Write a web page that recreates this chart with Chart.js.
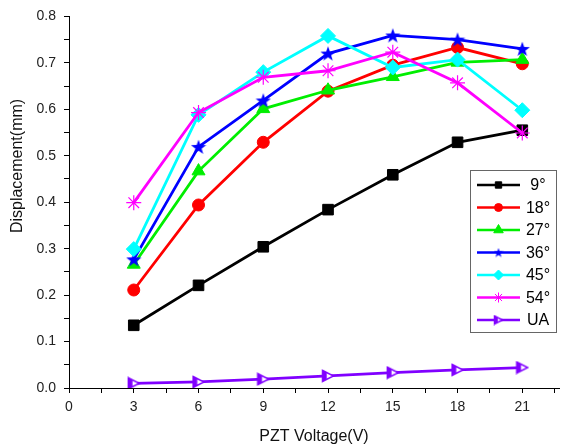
<!DOCTYPE html>
<html>
<head>
<meta charset="utf-8">
<script src="https://cdn.jsdelivr.net/npm/chart.js@4.4.1/dist/chart.umd.min.js"></script>
<style>
  html, body { margin: 0; padding: 0; background: #fff; }
  #contenedor { width: 568px; height: 447px; }
</style>
</head>
<body>
<div id="contenedor"><canvas id="grafico" width="568" height="447"></canvas></div>
<script>
// Datos
var voltajes = [3, 6, 9, 12, 15, 18, 21];
var serie9  = [0.135, 0.221, 0.304, 0.384, 0.459, 0.529, 0.555];
var serie18 = [0.211, 0.394, 0.529, 0.639, 0.695, 0.733, 0.698];
var serie27 = [0.266, 0.467, 0.601, 0.641, 0.670, 0.701, 0.707];
var serie36 = [0.277, 0.519, 0.619, 0.720, 0.759, 0.750, 0.730];
var serie45 = [0.299, 0.588, 0.680, 0.758, 0.690, 0.707, 0.598];
var serie54 = [0.399, 0.593, 0.669, 0.683, 0.723, 0.657, 0.549];
var serieUA = [0.010, 0.013, 0.019, 0.026, 0.033, 0.039, 0.044];
var nombres = ['9°', '18°', '27°', '36°', '45°', '54°', 'UA'];
var etiquetasX = [0, 3, 6, 9, 12, 15, 18, 21];
var etiquetasY = [0, 0.1, 0.2, 0.3, 0.4, 0.5, 0.6, 0.7, 0.8];

var FUENTE = "'Liberation Sans', Arial, sans-serif";

function crearEstrella(color, tam) {
  var c = document.createElement('canvas');
  c.width = tam; c.height = tam;
  var ctx = c.getContext('2d');
  var cx = tam / 2, cy = tam / 2 + tam * 0.04, rExt = tam / 2, rInt = tam * 0.2;
  ctx.beginPath();
  for (var i = 0; i < 10; i++) {
    var r = i % 2 === 0 ? rExt : rInt;
    var a = -Math.PI / 2 + i * Math.PI / 5;
    ctx.lineTo(cx + r * Math.cos(a), cy + r * Math.sin(a));
  }
  ctx.closePath();
  ctx.fillStyle = color;
  ctx.fill();
  return c;
}

function crearTrianguloUA(color, tam) {
  var c = document.createElement('canvas');
  c.width = tam; c.height = tam;
  var ctx = c.getContext('2d');
  var m = 1.5;
  ctx.beginPath();
  ctx.moveTo(m, m);
  ctx.lineTo(tam - m, tam / 2);
  ctx.lineTo(m, tam - m);
  ctx.closePath();
  ctx.fillStyle = '#fff';
  ctx.fill();
  ctx.lineWidth = 1.5;
  ctx.strokeStyle = color;
  ctx.stroke();
  var w = tam * 0.3;
  var k = (tam / 2 - m) / (tam - 2 * m);
  ctx.beginPath();
  ctx.moveTo(m, m);
  ctx.lineTo(m + w, m + w * k);
  ctx.lineTo(m + w, tam - m - w * k);
  ctx.lineTo(m, tam - m);
  ctx.closePath();
  ctx.fillStyle = color;
  ctx.fill();
  return c;
}

var series = [
  { datos: serie9,  color: '#000000', estilo: 'rect',     radio: 7.5, radioLeyenda: 4.5 },
  { datos: serie18, color: '#ff0000', estilo: 'circle',   radio: 6,   radioLeyenda: 4 },
  { datos: serie27, color: '#00ee00', estilo: 'triangle', radio: 7.5, radioLeyenda: 5.5 },
  { datos: serie36, color: '#0000ff', estilo: crearEstrella('#0000ff', 16), estiloLeyenda: crearEstrella('#0000ff', 10), radio: 8 },
  { datos: serie45, color: '#00ffff', estilo: 'rectRot',  radio: 7.5, radioLeyenda: 5 },
  { datos: serie54, color: '#ff00ff', estilo: 'star',     radio: 7.5, radioLeyenda: 5 },
  { datos: serieUA, color: '#8000ff', estilo: crearTrianguloUA('#8000ff', 14), estiloLeyenda: crearTrianguloUA('#8000ff', 11), radio: 7 }
];

var datasets = series.map(function (s, i) {
  return {
    label: nombres[i],
    data: s.datos.map(function (v, j) { return { x: voltajes[j], y: v }; }),
    borderColor: s.color,
    backgroundColor: s.color,
    borderWidth: 2.8,
    pointStyle: s.estilo,
    pointRadius: s.radio,
    pointBackgroundColor: s.color,
    pointBorderColor: s.color,
    pointBorderWidth: s.estilo === 'star' ? 1.2 : 1,
    tension: 0,
    order: series.length - i
  };
});

function esEtiqueta(lista, v) {
  return lista.some(function (e) { return Math.abs(e - v) < 1e-6; });
}

var leyendaPropia = {
  id: 'leyendaPropia',
  afterDraw: function (chart) {
    var ctx = chart.ctx;
    ctx.save();
    // titulo eje Y
    ctx.translate(18, 166);
    ctx.rotate(-Math.PI / 2);
    ctx.font = '16px ' + FUENTE;
    ctx.fillStyle = '#111';
    ctx.textAlign = 'center';
    ctx.textBaseline = 'middle';
    ctx.fillText('Displacement(mm)', 0, 0);
    ctx.restore();

    // caja de leyenda
    ctx.save();
    ctx.fillStyle = '#fff';
    ctx.fillRect(470.5, 170.5, 86, 162);
    ctx.strokeStyle = '#666';
    ctx.lineWidth = 1;
    ctx.strokeRect(470.5, 170.5, 86, 162);
    series.forEach(function (s, i) {
      var y = 185 + i * 22.5;
      ctx.strokeStyle = s.color;
      ctx.lineWidth = 2.5;
      ctx.beginPath();
      ctx.moveTo(477, y);
      ctx.lineTo(520, y);
      ctx.stroke();
      ctx.fillStyle = s.color;
      ctx.lineWidth = 1;
      Chart.helpers.drawPoint(ctx, {
        pointStyle: s.estiloLeyenda || s.estilo,
        radius: s.radioLeyenda || 5,
        rotation: 0,
        borderWidth: 1
      }, 498.5, y);
      ctx.fillStyle = '#000';
      ctx.font = '16px ' + FUENTE;
      ctx.textAlign = 'center';
      ctx.textBaseline = 'middle';
      ctx.fillText(nombres[i], 538, y + 1);
    });
    ctx.restore();
  }
};

new Chart(document.getElementById('grafico'), {
  type: 'line',
  data: { datasets: datasets },
  options: {
    responsive: false,
    animation: false,
    layout: { padding: { top: 16, right: 1, left: 0, bottom: 0 } },
    plugins: { legend: { display: false }, tooltip: { enabled: false } },
    scales: {
      x: {
        type: 'linear',
        min: 0,
        max: 22.7,
        afterFit: function (scale) { scale.height = 59; },
        border: { color: '#000', width: 1 },
        grid: { drawOnChartArea: false, tickLength: 5, tickColor: '#000' },
        ticks: {
          stepSize: 1.5,
          includeBounds: false,
          autoSkip: false,
          maxRotation: 0,
          padding: 6,
          color: '#222',
          font: { family: FUENTE, size: 14 },
          callback: function (v) { return esEtiqueta(etiquetasX, v) ? String(v) : ''; }
        },
        title: {
          display: true,
          text: 'PZT Voltage(V)',
          color: '#111',
          font: { family: FUENTE, size: 16 },
          padding: { top: 0, bottom: 1 }
        }
      },
      y: {
        type: 'linear',
        min: 0,
        max: 0.8,
        afterFit: function (scale) { scale.width = 69; },
        border: { color: '#000', width: 1 },
        grid: { drawOnChartArea: false, tickLength: 5, tickColor: '#000' },
        ticks: {
          stepSize: 0.05,
          autoSkip: false,
          padding: 8,
          color: '#222',
          font: { family: FUENTE, size: 14 },
          callback: function (v) { return esEtiqueta(etiquetasY, v) ? v.toFixed(1) : ''; }
        }
      }
    }
  },
  plugins: [leyendaPropia]
});
</script>
</body>
</html>
